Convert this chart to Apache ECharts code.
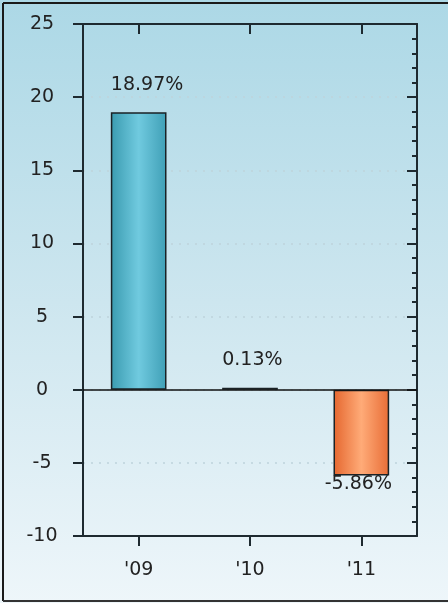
<!DOCTYPE html>
<html>
<head>
<meta charset="utf-8">
<script src="https://cdn.jsdelivr.net/npm/echarts@6/dist/echarts.min.js"></script>
<style>
  html, body { margin: 0; padding: 0; background: #f2f8fb; overflow: hidden; }
  #chart { width: 448px; height: 603px; }
</style>
</head>
<body>
<div id="chart"></div>
<script>
// 数据
const years = ["'09", "'10", "'11"];
const returns = [18.97, 0.13, -5.86];

// 柱子颜色（左边缘、中间、右边缘）
const barColors = [
    ['#3a9bb0', '#70cadf', '#3f9fb6'],
    ['#2a3a40', '#4a5a60', '#2a3a40'],
    ['#e5672f', '#ffab78', '#e86d36']
];

const chart = echarts.init(document.getElementById('chart'));

const font = 'DejaVu Sans';
const axisColor = '#1e2a30';

const barData = returns.map((v, i) => ({
    value: v,
    itemStyle: {
        color: new echarts.graphic.LinearGradient(0, 0, 1, 0, [
            { offset: 0, color: barColors[i][0] },
            { offset: 0.5, color: barColors[i][1] },
            { offset: 1, color: barColors[i][2] }
        ])
    },
    // 正值标签左对齐柱子左边，负值标签在柱子下方
    label: v < 0
        ? { position: 'bottom', distance: -1, offset: [-3, 0] }
        : { position: [0, -18], align: 'left', verticalAlign: 'bottom' }
}));

const option = {
    animation: false,
    backgroundColor: new echarts.graphic.LinearGradient(0, 0, 0, 1, [
        { offset: 0, color: '#acd8e6' },
        { offset: 0.5, color: '#cde6ef' },
        { offset: 1, color: '#eef6fa' }
    ]),
    graphic: [
        { type: 'line', shape: { x1: 3, y1: 3, x2: 448, y2: 3 }, style: { stroke: '#1a1a1a', lineWidth: 2 }, silent: true },
        { type: 'line', shape: { x1: 3, y1: 3, x2: 3, y2: 601 }, style: { stroke: '#1a1a1a', lineWidth: 2 }, silent: true },
        { type: 'line', shape: { x1: 3, y1: 601, x2: 448, y2: 601 }, style: { stroke: '#333', lineWidth: 2 }, silent: true }
    ],
    grid: { left: 83, right: 31, top: 24, bottom: 67 },
    xAxis: [{
        type: 'category',
        data: years,
        position: 'bottom',
        axisLine: { onZero: false, lineStyle: { color: axisColor, width: 2 } },
        axisTick: { show: true, alignWithLabel: true, length: 10, lineStyle: { color: axisColor, width: 2 } },
        axisLabel: { color: '#222', fontFamily: font, fontSize: 19, margin: 25 }
    }, {
        type: 'category',
        data: years,
        position: 'top',
        axisLine: { show: true, onZero: false, lineStyle: { color: axisColor, width: 2 } },
        axisTick: { show: true, alignWithLabel: true, inside: true, length: 10, lineStyle: { color: axisColor, width: 2 } },
        axisLabel: { show: false }
    }],
    yAxis: [{
        type: 'value',
        min: -10,
        max: 25,
        interval: 5,
        position: 'left',
        axisLine: { show: true, lineStyle: { color: axisColor, width: 2 } },
        axisTick: { show: true, length: 10, lineStyle: { color: axisColor, width: 2 } },
        axisLabel: { color: '#222', fontFamily: font, fontSize: 19, align: 'center', margin: 41 },
        splitLine: { show: true, lineStyle: { color: '#bfd3db', type: [2, 6], width: 1.5 } }
    }, {
        type: 'value',
        min: -10,
        max: 25,
        interval: 5,
        position: 'right',
        axisLine: { show: true, lineStyle: { color: axisColor, width: 2 } },
        axisTick: { show: true, inside: true, length: 10, lineStyle: { color: axisColor, width: 2 } },
        minorTick: { show: true, splitNumber: 5, length: 5, lineStyle: { color: axisColor, width: 2 } },
        axisLabel: { show: false },
        splitLine: { show: false }
    }],
    series: [{
        type: 'bar',
        data: barData,
        barWidth: '50%',
        itemStyle: { borderColor: '#1a2226', borderWidth: 1.5 },
        label: {
            show: true,
            color: '#222',
            fontFamily: font,
            fontSize: 19,
            formatter: p => p.value.toFixed(2) + '%'
        },
        markLine: {
            silent: true,
            symbol: 'none',
            label: { show: false },
            lineStyle: { color: '#111', type: 'solid', width: 1.5 },
            data: [{ yAxis: 0 }]
        }
    }, {
        // 顶部坐标轴占位系列，使顶部刻度显示
        type: 'bar',
        xAxisIndex: 1,
        yAxisIndex: 1,
        data: [],
        silent: true
    }]
};

chart.setOption(option);
</script>
</body>
</html>
